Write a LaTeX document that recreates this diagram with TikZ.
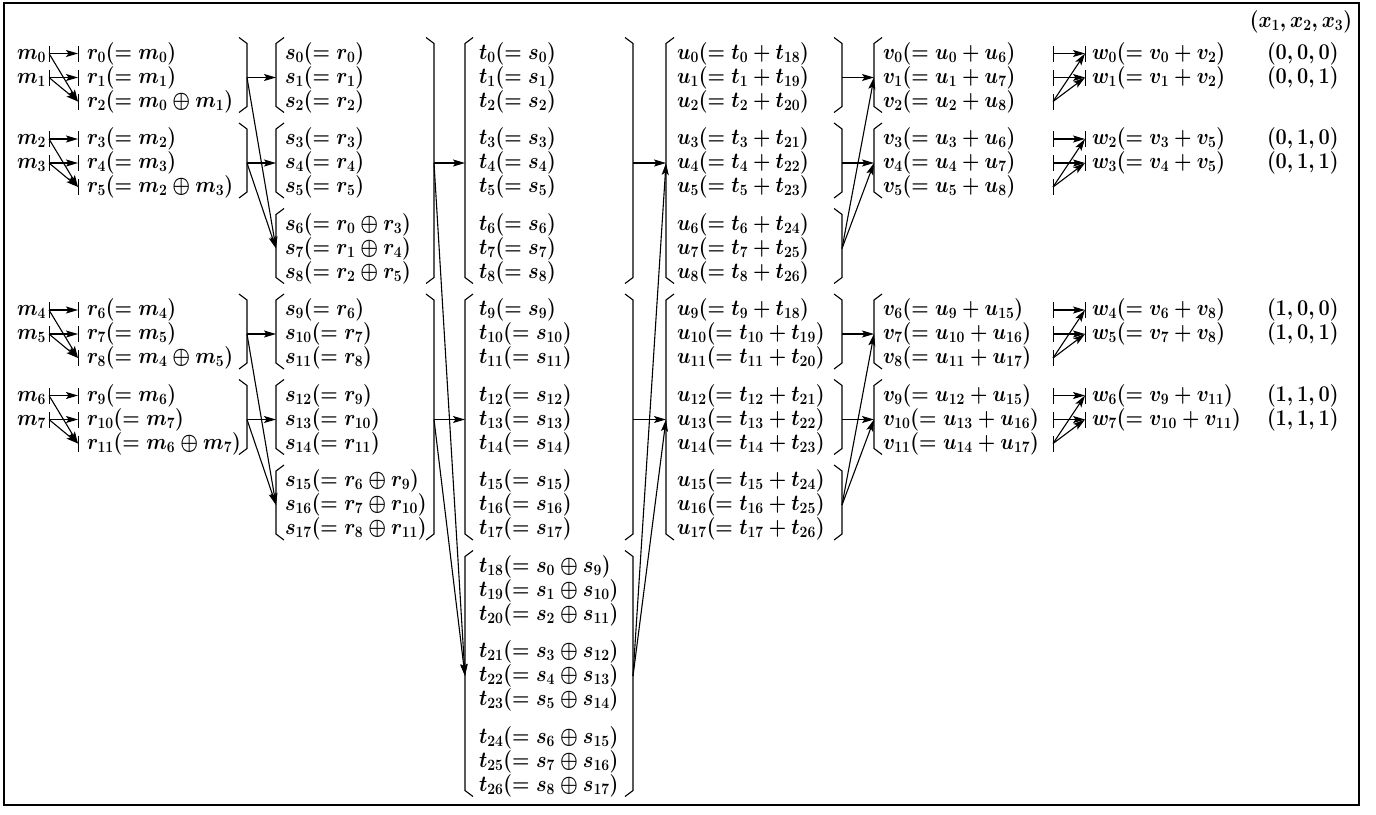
\RequirePackage{fix-cm}
\documentclass[tikz,border=0pt]{standalone}
\usepackage{graphicx}
\usetikzlibrary{arrows.meta}
\newcommand{\hsc}{0.887}
\newcommand{\MT}[1]{\scalebox{\hsc}[1]{$#1$}}
\newcommand{\Brk}[5]{%
  \draw[brk] ({#2+8*(#5)},{rowy(#3)-16}) -- (#2,{rowy(#3)-10}) -- (#2,{rowy(#4)+5}) -- ({#2+8*(#5)},{rowy(#4)+11});
  \coordinate (#1) at (#2,{rowy((#3+#4)/2)});}
\begin{document}
\begin{tikzpicture}[x=1pt,y=-1pt,
  declare function={rowy(\n)=53.5+85.5*floor(\n/3)+24*mod(\n,3);},
  lbl/.style={inner sep=0pt,outer sep=0pt,anchor=base west,font=\fontsize{22.5}{27}\selectfont\boldmath},
  lble/.style={lbl,anchor=base east},
  arr/.style={-{Stealth[length=12pt,width=7pt,inset=2.5pt]},line width=1.1pt},
  brk/.style={line width=1.1pt},
  tick/.style={line width=0.9pt}]
\useasboundingbox (0,0) rectangle (1376,814);
\draw[line width=1.8pt] (4,3) rectangle (1359,805);
\node[lble] (hdr) at (1352,27) {\MT{(x_1, x_2, x_3)}};
% m and r
\foreach \g/\k in {0/0,1/1,3/2,4/3}{
  \pgfmathtruncatemacro\a{3*\g}
  \pgfmathtruncatemacro\b{3*\g+1}
  \pgfmathtruncatemacro\c{3*\g+2}
  \pgfmathtruncatemacro\ma{2*\k}
  \pgfmathtruncatemacro\mb{2*\k+1}
  \pgfmathtruncatemacro\ra{3*\k}
  \pgfmathtruncatemacro\rb{3*\k+1}
  \pgfmathtruncatemacro\rc{3*\k+2}
  \node[lble] (m\ma) at (46,{rowy(\a)+5.5}) {\MT{m_{\ma}}};
  \node[lble] (m\mb) at (46,{rowy(\b)+5.5}) {\MT{m_{\mb}}};
  \node[lbl] (r\ra) at (87,{rowy(\a)+5.5}) {\MT{r_{\ra}(= m_{\ma})}};
  \node[lbl] (r\rb) at (87,{rowy(\b)+5.5}) {\MT{r_{\rb}(= m_{\mb})}};
  \node[lbl] (r\rc) at (87,{rowy(\c)+5.5}) {\MT{r_{\rc}(= m_{\ma}\oplus m_{\mb})}};
  \draw[tick] (49,{rowy(\a)-8}) -- (49,{rowy(\a)+8});
  \draw[tick] (49,{rowy(\b)-8}) -- (49,{rowy(\b)+8});
  \draw[tick] (78,{rowy(\a)-8}) -- (78,{rowy(\a)+8});
  \draw[tick] (78,{rowy(\b)-8}) -- (78,{rowy(\b)+8});
  \draw[tick] (78,{rowy(\c)-8}) -- (78,{rowy(\c)+8});
  \coordinate (mt\ma) at (49,{rowy(\a)});
  \coordinate (mt\mb) at (49,{rowy(\b)});
  \coordinate (rt\ra) at (78,{rowy(\a)});
  \coordinate (rt\rb) at (78,{rowy(\b)});
  \coordinate (rt\rc) at (78,{rowy(\c)});
  \draw[arr] (mt\ma) -- (rt\ra);
  \draw[arr] (mt\mb) -- (rt\rb);
  \draw[arr] (mt\ma) -- (rt\rc);
  \draw[arr] (mt\mb) -- (rt\rc);
}
% s column
\foreach \i in {0,...,17}{
  \pgfmathtruncatemacro\h{\i>8?1:0}
  \pgfmathtruncatemacro\g{\i-9*\h}
  \pgfmathtruncatemacro\o{6*\h}
  \ifnum\g<6
    \pgfmathtruncatemacro\j{\g+\o}
    \node[lbl] (s\i) at (285,{rowy(\i)+5.5}) {\MT{s_{\i}(= r_{\j})}};
  \else
    \pgfmathtruncatemacro\ja{\g-6+\o}
    \pgfmathtruncatemacro\jb{\g-3+\o}
    \node[lbl] (s\i) at (285,{rowy(\i)+5.5}) {\MT{s_{\i}(= r_{\ja}\oplus r_{\jb})}};
  \fi
}
% t column
\foreach \i in {0,...,26}{
  \ifnum\i<18
    \node[lbl] (t\i) at (479,{rowy(\i)+5.5}) {\MT{t_{\i}(= s_{\i})}};
  \else
    \pgfmathtruncatemacro\ja{\i-18}
    \pgfmathtruncatemacro\jb{\i-9}
    \node[lbl] (t\i) at (479,{rowy(\i)+5.5}) {\MT{t_{\i}(= s_{\ja}\oplus s_{\jb})}};
  \fi
}
% u column
\foreach \i in {0,...,17}{
  \pgfmathtruncatemacro\h{\i>8?1:0}
  \pgfmathtruncatemacro\k{\i-9*\h+18}
  \node[lbl] (u\i) at (677,{rowy(\i)+5.5}) {\MT{u_{\i}(= t_{\i} + t_{\k})}};
}
% v column
\foreach \r in {0,1,2,3,4,5,9,10,11,12,13,14}{
  \pgfmathtruncatemacro\h{\r>8?1:0}
  \pgfmathtruncatemacro\g{\r-9*\h}
  \pgfmathtruncatemacro\vi{\g+6*\h}
  \pgfmathtruncatemacro\ub{6+mod(\g,3)+9*\h}
  \node[lbl] (v\vi) at (883,{rowy(\r)+5.5}) {\MT{v_{\vi}(= u_{\r} + u_{\ub})}};
  \draw[tick] (1053,{rowy(\r)-8}) -- (1053,{rowy(\r)+8});
  \coordinate (vt\r) at (1053,{rowy(\r)});
}
% w column
\foreach \wi/\r/\va/\vb in {0/0/0/2,1/1/1/2,2/3/3/5,3/4/4/5,4/9/6/8,5/10/7/8,6/12/9/11,7/13/10/11}{
  \pgfmathtruncatemacro\xa{\wi>3?1:0}
  \pgfmathtruncatemacro\xb{mod(floor(\wi/2),2)}
  \pgfmathtruncatemacro\xc{mod(\wi,2)}
  \node[lbl] (w\wi) at (1092,{rowy(\r)+5.5}) {\MT{w_{\wi}(= v_{\va} + v_{\vb})}};
  \node[lbl] (x\wi) at (1267,{rowy(\r)+5.5}) {\MT{(\xa, \xb, \xc)}};
  \draw[tick] (1085,{rowy(\r)-8}) -- (1085,{rowy(\r)+8});
  \coordinate (wt\wi) at (1085,{rowy(\r)});
}
\foreach \a/\p/\q in {0/0/1,3/2/3,9/4/5,12/6/7}{
  \pgfmathtruncatemacro\b{\a+1}
  \pgfmathtruncatemacro\c{\a+2}
  \draw[arr] (vt\a) -- (wt\p);
  \draw[arr] (vt\b) -- (wt\q);
  \draw[arr] (vt\c) -- (wt\p);
  \draw[arr] (vt\c) -- (wt\q);
}
% brackets
\Brk{rR0}{247}{0}{2}{-1}
\Brk{rR1}{247}{3}{5}{-1}
\Brk{rR3}{247}{9}{11}{-1}
\Brk{rR4}{247}{12}{14}{-1}
\Brk{sL0}{276}{0}{2}{1}
\Brk{sL1}{276}{3}{5}{1}
\Brk{sL2}{276}{6}{8}{1}
\Brk{sL3}{276}{9}{11}{1}
\Brk{sL4}{276}{12}{14}{1}
\Brk{sL5}{276}{15}{17}{1}
\Brk{sR0}{434}{0}{8}{-1}
\Brk{sR1}{434}{9}{17}{-1}
\Brk{tL0}{465}{0}{8}{1}
\Brk{tL1}{465}{9}{17}{1}
\Brk{tL2}{465}{18}{26}{1}
\Brk{tR0}{633}{0}{8}{-1}
\Brk{tR1}{633}{9}{17}{-1}
\Brk{tR2}{633}{18}{26}{-1}
\Brk{uL0}{666}{0}{8}{1}
\Brk{uL1}{666}{9}{17}{1}
\Brk{uR0}{842}{0}{2}{-1}
\Brk{uR1}{842}{3}{5}{-1}
\Brk{uR2}{842}{6}{8}{-1}
\Brk{uR3}{842}{9}{11}{-1}
\Brk{uR4}{842}{12}{14}{-1}
\Brk{uR5}{842}{15}{17}{-1}
\Brk{vL0}{874}{0}{2}{1}
\Brk{vL1}{874}{3}{5}{1}
\Brk{vL3}{874}{9}{11}{1}
\Brk{vL4}{874}{12}{14}{1}
% connectors between groups
\draw[arr] (rR0) -- (sL0);
\draw[arr] (rR1) -- (sL1);
\draw[arr] (rR0) -- (sL2);
\draw[arr] (rR1) -- (sL2);
\draw[arr] (rR3) -- (sL3);
\draw[arr] (rR4) -- (sL4);
\draw[arr] (rR3) -- (sL5);
\draw[arr] (rR4) -- (sL5);
\draw[arr] (sR0) -- (tL0);
\draw[arr] (sR1) -- (tL1);
\draw[arr] (sR0) -- (tL2);
\draw[arr] (sR1) -- (tL2);
\draw[arr] (tR0) -- (uL0);
\draw[arr] (tR1) -- (uL1);
\draw[arr] (tR2) -- (uL0);
\draw[arr] (tR2) -- (uL1);
\draw[arr] (uR0) -- (vL0);
\draw[arr] (uR1) -- (vL1);
\draw[arr] (uR2) -- (vL0);
\draw[arr] (uR2) -- (vL1);
\draw[arr] (uR3) -- (vL3);
\draw[arr] (uR4) -- (vL4);
\draw[arr] (uR5) -- (vL3);
\draw[arr] (uR5) -- (vL4);
\end{tikzpicture}
\end{document}
